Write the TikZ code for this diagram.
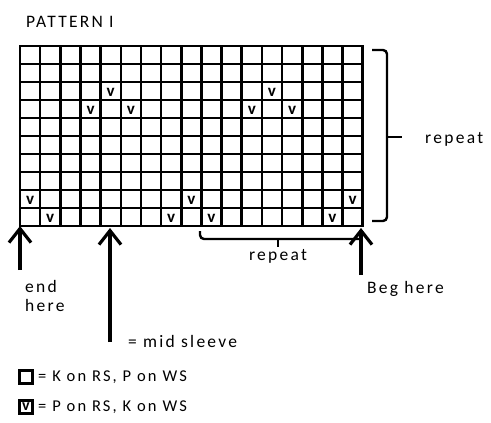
\documentclass[tikz,border=0pt]{standalone}
\usepackage{fontspec}
\setmainfont{Carlito}[LetterSpace=13]
\usetikzlibrary{arrows.meta}
\begin{document}
\begin{tikzpicture}[x=1pt,y=-1pt,
  gridline/.style={line width=2.6pt, line cap=rect},
  bracket/.style={line width=2.4pt, rounded corners=4pt},
  bigarrow/.style={line width=3.2pt, -{Straight Barb[length=14pt,width=22pt]}},
  lbl/.style={font=\fontsize{17.5}{19}\selectfont, inner sep=0pt},
  keylbl/.style={font=\fontsize{16.5}{18}\selectfont, inner sep=0pt},
  vmark/.style={font=\fontsize{17}{17}\selectfont\bfseries, inner sep=0pt},
  keybox/.style={draw, line width=3pt, minimum size=12.5pt, inner sep=0pt, font=\fontsize{16}{16}\selectfont\bfseries}]
\useasboundingbox (0,0) rectangle (491,423);
\def\cw{20.16}
\def\rh{18}
% grid
\coordinate (gNW) at (20,46);
\coordinate (gSW) at (20,226);
\coordinate (gSE) at (362.7,226);
\foreach \i in {0,...,17} \draw[gridline] ({20+\i*\cw},46) -- ({20+\i*\cw},226);
\foreach \j in {0,...,10} \draw[gridline] (20,{46+\j*\rh}) -- (362.7,{46+\j*\rh});
\foreach \c/\r in {5/3,13/3,4/4,6/4,12/4,14/4,1/9,9/9,17/9,2/10,8/10,10/10,16/10}
  \node[vmark] (v\c-\r) at ({20+(\c-0.5)*\cw},{46+(\r-0.5)*\rh+1.5}) {v};
% title
\node[lbl, anchor=west] (title) at (26,22) {PATTERN I};
% right brace
\coordinate (rbTop) at (372,50);
\coordinate (rbBot) at (372,221);
\coordinate (rbMid) at (387,137);
\coordinate (rbTip) at (402,137);
\draw[bracket] (rbTop) -- (387,50) -- (387,221) -- (rbBot);
\draw[bracket] (rbMid) -- (rbTip);
\node[lbl, anchor=west] (repR) at (425,139) {repeat};
% bottom bracket
\coordinate (bbL) at (200,231);
\coordinate (bbR) at (361,239);
\coordinate (bbMid) at (278,239);
\coordinate (bbTip) at (278,247);
\draw[bracket] (bbL) -- (200,239) -- (bbR);
\draw[bracket] (bbMid) -- (bbTip);
\node[lbl] (repB) at (278,256) {repeat};
% arrows
\coordinate (endTail) at (20,270);
\coordinate (midTip) at (110,228);
\coordinate (midTail) at (110,342);
\coordinate (begTip) at (361,228);
\coordinate (begTail) at (361,275);
\draw[bigarrow] (endTail) -- (gSW);
\draw[bigarrow] (midTail) -- (midTip);
\draw[bigarrow] (begTail) -- (begTip);
\node[lbl, anchor=north west, align=left] (endhere) at (25,280) {end\\here};
\node[lbl, anchor=west] (beghere) at (367,289) {Beg here};
\node[lbl, anchor=west] (mid) at (128,341) {= mid sleeve};
% legend
\node[keybox] (key1) at (26,377) {};
\node[keylbl, anchor=west] (key1t) at (38,377) {= K on RS, P on WS};
\node[keybox] (key2) at (26,407) {v};
\node[keylbl, anchor=west] (key2t) at (38,407) {= P on RS, K on WS};
\end{tikzpicture}
\end{document}
